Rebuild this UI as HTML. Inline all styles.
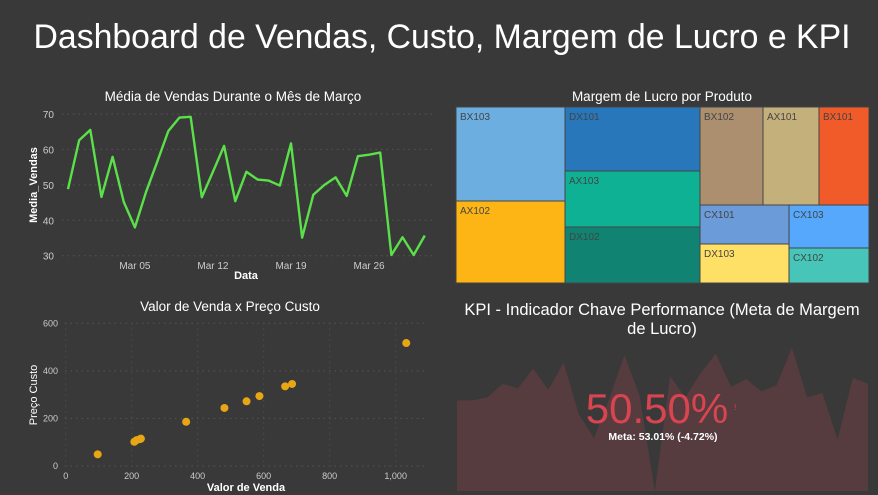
<!DOCTYPE html>
<html><head><meta charset="utf-8"><style>
html,body{margin:0;padding:0;background:#393939;}
svg{display:block;font-family:"Liberation Sans",Arial,sans-serif;}
</style></head><body>
<svg id="s" width="878" height="495" viewBox="0 0 878 495">
<rect width="878" height="495" fill="#393939"/>
<text x="442" y="48" font-size="34" fill="#fff" text-anchor="middle" textLength="817" lengthAdjust="spacingAndGlyphs">Dashboard de Vendas, Custo, Margem de Lucro e KPI</text>
<text x="233" y="101" font-size="13.5" fill="#fff" text-anchor="middle">Média de Vendas Durante o Mês de Março</text>
<text x="230" y="311" font-size="13.5" fill="#fff" text-anchor="middle">Valor de Venda x Preço Custo</text>
<text x="662" y="101" font-size="13.5" fill="#fff" text-anchor="middle">Margem de Lucro por Produto</text>
<text x="662" y="315" font-size="16.5" fill="#fff" text-anchor="middle">KPI - Indicador Chave Performance (Meta de Margem</text>
<text x="662" y="334" font-size="16.5" fill="#fff" text-anchor="middle">de Lucro)</text>
<g id="line"></g><g id="scatter"></g><g id="tree"></g><g id="kpi"></g>
</svg>
<script>
// Line chart data (Feb 27 .. Mar 31)
const lineValues=[48.8,62.6,65.5,46.6,57.9,45.2,38.0,48,56.5,65.2,69.0,69.2,46.5,53.7,61.0,45.4,53.7,51.5,51.2,49.8,61.7,35.1,47.2,50.0,52.1,46.9,58.1,58.5,59.1,30.2,35.2,30.2,35.7];
const lineYTicks=[30,40,50,60,70];
const lineXTickLabels=["Mar 05","Mar 12","Mar 19","Mar 26"];
const lineXTickIdx=[6,13,20,27];
// Scatter data
const scatterX=[97,208,215,225,228,365,481,548,587,665,686,1032];
const scatterY=[49,102,109,113,115,186,244,272,294,335,345,517];
const scatterXTicks=[0,200,400,600,800,1000];
const scatterYTicks=[0,200,400,600];
// Treemap data
const treeNames=["BX103","AX102","DX101","AX103","DX102","BX102","AX101","BX101","CX101","DX103","CX103","CX102"];
const treeValues=[10246,8938,8640,7560,7560,6174,5488,4900,3471,3471,3440,2800];
const treeColors=["#6caee0","#fdb515","#2877bb","#0eb194","#108372","#ab8f6f","#c3b07b","#f15a29","#6b9bd8","#ffe066","#55a8fb","#48c5b9"];
// KPI sparkline
const kpiSpark=[60,60,62,71,68,81,67,85,51,35,61,90,63,0,76,62,78,91,69,74,66,70,95,62,65,34,75,71];
const kpiValue=50.50, kpiMeta=53.01, kpiDelta=-4.72;

const NS="http://www.w3.org/2000/svg";
function el(t,a,p){const e=document.createElementNS(NS,t);for(const k in a)e.setAttribute(k,a[k]);p.appendChild(e);return e;}

// ---- line chart
(function(){
const g=document.getElementById('line');
const x0=68,dx=11.15,yS=v=>255.7-(v-30)*(141.7/40);
const xS=i=>x0+i*dx;
lineYTicks.forEach(t=>{
 const l=el('line',{x1:62,x2:432,y1:yS(t),y2:yS(t),stroke:'#555','stroke-dasharray':'1.5,4'},g);
 
 const tx=el('text',{x:54,y:yS(t)+4,'font-size':10,fill:'#ccc','text-anchor':'end'},g);tx.textContent=t;
 
});
lineXTickLabels.forEach((lb,i)=>{
 const tx=el('text',{x:xS(lineXTickIdx[i]),y:269,'font-size':10,fill:'#ccc','text-anchor':'middle'},g);tx.textContent=lb;
 
});
const xt=el('text',{x:246,y:279,'font-size':11,'font-weight':'bold',fill:'#fff','text-anchor':'middle'},g);xt.textContent='Data';

const yt=el('text',{x:0,y:0,'font-size':11,'font-weight':'bold',fill:'#fff','text-anchor':'middle',transform:'translate(37,185) rotate(-90)'},g);yt.textContent='Media_Vendas';

const p=el('polyline',{points:lineValues.map((v,i)=>xS(i)+','+yS(v)).join(' '),fill:'none',stroke:'#5be04a','stroke-width':2.4,'stroke-linejoin':'round'},g);

})();

// ---- scatter
(function(){
const g=document.getElementById('scatter');
const xS=v=>65.7+v*0.33,yS=v=>466-v*(142.7/600);
scatterYTicks.forEach(t=>{
 const l=el('line',{x1:65,x2:428,y1:yS(t),y2:yS(t),stroke:'#555','stroke-dasharray':'1.5,4'},g);
 
 const tx=el('text',{x:58,y:yS(t)+3,'font-size':9,fill:'#ccc','text-anchor':'end'},g);tx.textContent=t;
 
});
scatterXTicks.forEach(t=>{
 const l=el('line',{x1:xS(t),x2:xS(t),y1:323,y2:466,stroke:'#4d4d4d','stroke-dasharray':'1.5,4'},g);
 
 const tx=el('text',{x:xS(t),y:479,'font-size':9,fill:'#ccc','text-anchor':'middle'},g);tx.textContent=t.toLocaleString('en-US');
 
});
const xt=el('text',{x:246,y:491,'font-size':11,'font-weight':'bold',fill:'#fff','text-anchor':'middle'},g);xt.textContent='Valor de Venda';

const yt=el('text',{x:0,y:0,'font-size':11,fill:'#fff','text-anchor':'middle',transform:'translate(37,395) rotate(-90)'},g);yt.textContent='Preço Custo';

scatterX.forEach((v,i)=>{
 const c=el('circle',{cx:xS(v),cy:yS(scatterY[i]),r:4,fill:'#e8a615'},g);
 
});
})();

// ---- treemap
(function(){
const g=document.getElementById('tree');
const X0=456,Y0=107,W=413,H=176;
const total=treeValues.reduce((a,b)=>a+b,0);
const sum=ids=>ids.reduce((a,i)=>a+treeValues[i],0);
const rects=[];
function vstack(ids,x,y,w,h){let yy=y;const s=sum(ids);ids.forEach(i=>{const hh=h*treeValues[i]/s;rects.push([i,x,yy,w,hh]);yy+=hh;});}
function hstack(ids,x,y,w,h){let xx=x;const s=sum(ids);ids.forEach(i=>{const ww=w*treeValues[i]/s;rects.push([i,xx,y,ww,h]);xx+=ww;});}
const c1=[0,1],c2=[2,3,4],c3top=[5,6,7],c3a=[8,9],c3b=[10,11];
const w1=W*sum(c1)/total,w2=W*sum(c2)/total,w3=W-w1-w2;
vstack(c1,X0,Y0,w1,H);vstack(c2,X0+w1,Y0,w2,H);
const s3=sum(c3top)+sum(c3a)+sum(c3b);
const ht=H*sum(c3top)/s3;
hstack(c3top,X0+w1+w2,Y0,w3,ht);
const wa=w3*sum(c3a)/(sum(c3a)+sum(c3b));
vstack(c3a,X0+w1+w2,Y0+ht,wa,H-ht);vstack(c3b,X0+w1+w2+wa,Y0+ht,w3-wa,H-ht);
rects.forEach(([i,x,y,w,h])=>{
 const r=el('rect',{x:x,y:y,width:w,height:h,fill:treeColors[i],stroke:'#444','stroke-width':1},g);
 
 const t=el('text',{x:x+4,y:y+13,'font-size':10,fill:'#444'},g);t.textContent=treeNames[i];
 
});
})();

// ---- KPI
(function(){
const g=document.getElementById('kpi');
const x0=457,x1=868,yb=491,yt=340,n=kpiSpark.length;
const xS=i=>x0+i*(x1-x0)/(n-1),yS=v=>yb-v*(yb-yt)/100;
const pts=[x0+','+yb].concat(kpiSpark.map((v,i)=>xS(i)+','+yS(v))).concat([x1+','+yb]);
const p=el('polygon',{points:pts.join(' '),fill:'#563b3f'},g);

const t=el('text',{x:657,y:423,'font-size':42,fill:'#d94451','text-anchor':'middle'},g);t.textContent=kpiValue.toFixed(2)+'%';

const ex=el('text',{x:734,y:410,'font-size':8,fill:'#d94451'},g);ex.textContent='!';

const m=el('text',{x:663,y:440,'font-size':10.5,'font-weight':'bold',fill:'#fff','text-anchor':'middle'},g);
m.textContent='Meta: '+kpiMeta.toFixed(2)+'% ('+kpiDelta.toFixed(2)+'%)';

})();
</script>
</body></html>
